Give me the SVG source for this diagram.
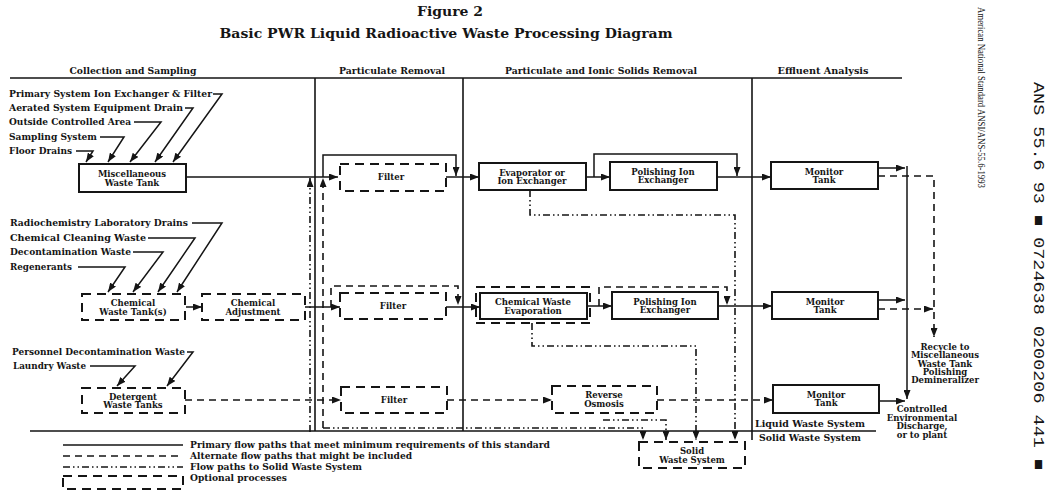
<svg xmlns="http://www.w3.org/2000/svg" width="1046" height="490" viewBox="0 0 1046 490">
<style>
.t{font-family:"DejaVu Serif","Liberation Serif",serif;font-weight:bold;fill:#151515}
.bx{font-size:8.5px;text-anchor:middle}
.lb{font-size:9px}
.hd{font-size:9.5px;text-anchor:middle}
.sb{fill:#fff;stroke:#151515;stroke-width:2}
.db{fill:#fff;stroke:#151515;stroke-width:2;stroke-dasharray:9 6}
.ln{fill:none;stroke:#151515;stroke-width:1.5}
.frame{fill:none;stroke:#151515;stroke-width:1.6}
.dl{fill:none;stroke:#151515;stroke-width:1.6;stroke-dasharray:7 5}
.dd{fill:none;stroke:#151515;stroke-width:1.6;stroke-dasharray:7 3 1.5 3 1.5 3}
</style>
<defs>
<marker id="ah" markerUnits="userSpaceOnUse" markerWidth="9" markerHeight="7" refX="9" refY="3.5" orient="auto">
<path d="M0,0 L9,3.5 L0,7 z" fill="#151515"/>
</marker>
</defs>
<rect width="1046" height="490" fill="#fff"/>

<!-- titles -->
<text class="t" x="450" y="16" font-size="12" text-anchor="middle" textLength="66" lengthAdjust="spacingAndGlyphs">Figure 2</text>
<text class="t" x="446" y="38" font-size="13" text-anchor="middle" textLength="453" lengthAdjust="spacingAndGlyphs">Basic PWR Liquid Radioactive Waste Processing Diagram</text>
<text class="t hd" x="133" y="74" textLength="127" lengthAdjust="spacingAndGlyphs">Collection and Sampling</text>
<text class="t hd" x="392" y="74" textLength="106" lengthAdjust="spacingAndGlyphs">Particulate Removal</text>
<text class="t hd" x="601" y="74" textLength="192" lengthAdjust="spacingAndGlyphs">Particulate and Ionic Solids Removal</text>
<text class="t hd" x="823" y="74" textLength="91" lengthAdjust="spacingAndGlyphs">Effluent Analysis</text>

<!-- frame -->
<g id="frame">
<path class="frame" d="M10,78 H902 M315,78 V431 M463,78 V431 M752,78 V440 M30,431 H876"/>
</g>

<!-- source labels -->
<g id="sources">
<text class="t lb" x="9" y="97" textLength="203" lengthAdjust="spacingAndGlyphs">Primary System Ion Exchanger &amp; Filter</text>
<text class="t lb" x="9" y="111" textLength="174" lengthAdjust="spacingAndGlyphs">Aerated System Equipment Drain</text>
<text class="t lb" x="9" y="125" textLength="122" lengthAdjust="spacingAndGlyphs">Outside Controlled Area</text>
<text class="t lb" x="9" y="140" textLength="88" lengthAdjust="spacingAndGlyphs">Sampling System</text>
<text class="t lb" x="9" y="154" textLength="63" lengthAdjust="spacingAndGlyphs">Floor Drains</text>
<text class="t lb" x="10" y="226" textLength="178" lengthAdjust="spacingAndGlyphs">Radiochemistry Laboratory Drains</text>
<text class="t lb" x="10" y="241" textLength="136" lengthAdjust="spacingAndGlyphs">Chemical Cleaning Waste</text>
<text class="t lb" x="10" y="255" textLength="121" lengthAdjust="spacingAndGlyphs">Decontamination Waste</text>
<text class="t lb" x="10" y="270" textLength="62" lengthAdjust="spacingAndGlyphs">Regenerants</text>
<text class="t lb" x="12" y="355" textLength="173" lengthAdjust="spacingAndGlyphs">Personnel Decontamination Waste</text>
<text class="t lb" x="13" y="369" textLength="73" lengthAdjust="spacingAndGlyphs">Laundry Waste</text>
</g>

<!-- nodes -->
<g id="misc-tank"><rect class="sb" x="79" y="164" width="107" height="28"/>
<text class="t bx" x="132" y="177">Miscellaneous</text><text class="t bx" x="132" y="185.5">Waste Tank</text></g>
<g id="chem-tank"><rect class="db" x="82" y="294" width="103" height="26"/>
<text class="t bx" x="133" y="306">Chemical</text><text class="t bx" x="133" y="314.5">Waste Tank(s)</text></g>
<g id="chem-adj"><rect class="db" x="202" y="294" width="103" height="26"/>
<text class="t bx" x="253" y="306">Chemical</text><text class="t bx" x="253" y="314.5">Adjustment</text></g>
<g id="det-tank"><rect class="db" x="82" y="388" width="103" height="25"/>
<text class="t bx" x="133" y="399.5">Detergent</text><text class="t bx" x="133" y="408">Waste Tanks</text></g>

<g id="filter1"><rect class="db" x="340" y="164" width="106" height="27"/>
<text class="t bx" x="391" y="180">Filter</text></g>
<g id="filter2"><rect class="db" x="340" y="293" width="106" height="26"/>
<text class="t bx" x="393" y="309">Filter</text></g>
<g id="filter3"><rect class="db" x="341" y="387" width="106" height="26"/>
<text class="t bx" x="394" y="403">Filter</text></g>

<g id="evap1"><rect class="sb" x="479" y="163" width="107" height="27"/>
<text class="t bx" x="532" y="175.5">Evaporator or</text><text class="t bx" x="532" y="184">Ion Exchanger</text></g>
<g id="evap2"><rect class="db" x="476" y="287" width="114" height="36"/><rect class="sb" x="480" y="293" width="107" height="26"/>
<text class="t bx" x="533" y="305">Chemical Waste</text><text class="t bx" x="533" y="313.5">Evaporation</text></g>
<g id="ro"><rect class="db" x="552" y="386" width="105" height="27"/>
<text class="t bx" x="604" y="398">Reverse</text><text class="t bx" x="604" y="406.5">Osmosis</text></g>

<g id="polish1"><rect class="sb" x="610" y="162" width="107" height="28"/>
<text class="t bx" x="663" y="174.5">Polishing Ion</text><text class="t bx" x="663" y="183">Exchanger</text></g>
<g id="polish2"><rect class="sb" x="612" y="292" width="106" height="27"/>
<text class="t bx" x="665" y="304.5">Polishing Ion</text><text class="t bx" x="665" y="313">Exchanger</text></g>

<g id="monitor1"><rect class="sb" x="771" y="162" width="107" height="27"/>
<text class="t bx" x="824" y="174.5">Monitor</text><text class="t bx" x="824" y="183">Tank</text></g>
<g id="monitor2"><rect class="sb" x="772" y="292" width="106" height="27"/>
<text class="t bx" x="825" y="304.5">Monitor</text><text class="t bx" x="825" y="313">Tank</text></g>
<g id="monitor3"><rect class="sb" x="773" y="385" width="106" height="28"/>
<text class="t bx" x="826" y="397.5">Monitor</text><text class="t bx" x="826" y="406">Tank</text></g>

<g id="solid-waste"><rect class="db" x="639" y="442" width="106" height="26"/>
<text class="t bx" x="692" y="454">Solid</text><text class="t bx" x="692" y="462.5">Waste System</text></g>

<g id="recycle">
<text class="t bx" x="945" y="350">Recycle to</text>
<text class="t bx" x="945" y="358.3">Miscellaneous</text>
<text class="t bx" x="945" y="366.6">Waste Tank</text>
<text class="t bx" x="945" y="374.9">Polishing</text>
<text class="t bx" x="945" y="383.2">Demineralizer</text>
</g>
<g id="discharge">
<text class="t bx" x="922" y="412">Controlled</text>
<text class="t bx" x="922" y="420.5">Environmental</text>
<text class="t bx" x="922" y="429">Discharge,</text>
<text class="t bx" x="922" y="437.5">or to plant</text>
</g>
<g id="system-labels">
<text class="t" x="755" y="427" font-size="8.5" textLength="110" lengthAdjust="spacingAndGlyphs">Liquid Waste System</text>
<text class="t" x="759" y="441" font-size="8.5" textLength="102" lengthAdjust="spacingAndGlyphs">Solid Waste System</text>
</g>

<!-- connectors -->
<g id="connectors">
<path class="ln" d="M213,94 H222 L173,162" marker-end="url(#ah)"/>
<path class="ln" d="M185,108 H193 L155,162" marker-end="url(#ah)"/>
<path class="ln" d="M134,122 H161 L130,162" marker-end="url(#ah)"/>
<path class="ln" d="M100,137 H124 L108,162" marker-end="url(#ah)"/>
<path class="ln" d="M76,151 H93 L86,162" marker-end="url(#ah)"/>
<path class="ln" d="M192,223 H222 L177,292" marker-end="url(#ah)"/>
<path class="ln" d="M148,238 H195 L158,292" marker-end="url(#ah)"/>
<path class="ln" d="M133,252 H163 L133,292" marker-end="url(#ah)"/>
<path class="ln" d="M78,267 H125 L108,292" marker-end="url(#ah)"/>
<path class="ln" d="M187,352 H193 L167,386" marker-end="url(#ah)"/>
<path class="ln" d="M90,366 H135 L117,386" marker-end="url(#ah)"/>

<!-- row 1 -->
<path class="ln" d="M186,177 H338" marker-end="url(#ah)"/>
<path class="ln" d="M323,177 V155 H456 V176" marker-end="url(#ah)"/>
<path class="ln" d="M446,177 H479" marker-end="url(#ah)"/>
<path class="ln" d="M586,177 H610" marker-end="url(#ah)"/>
<path class="ln" d="M594,177 V154 H737 V176" marker-end="url(#ah)"/>
<path class="ln" d="M717,177 H771" marker-end="url(#ah)"/>
<path class="ln" d="M878,168 H905" marker-end="url(#ah)"/>
<path class="ln" d="M907,166 V399" marker-end="url(#ah)"/>
<path class="dl" d="M878,176 H934 V337" marker-end="url(#ah)"/>

<!-- row 2 -->
<path class="ln" d="M186,307 H202" marker-end="url(#ah)"/>
<path class="ln" d="M305,307 H340" marker-end="url(#ah)"/>
<path class="dl" d="M331,307 V286 H458 V305" marker-end="url(#ah)"/>
<path class="ln" d="M446,307 H480" marker-end="url(#ah)"/>
<path class="ln" d="M587,306 H612" marker-end="url(#ah)"/>
<path class="dl" d="M599,306 V287 H727 V305" marker-end="url(#ah)"/>
<path class="ln" d="M718,306 H772" marker-end="url(#ah)"/>
<path class="ln" d="M878,300 H905" marker-end="url(#ah)"/>
<path class="dl" d="M878,309 H933" marker-end="url(#ah)"/>

<!-- row 3 -->
<path class="dl" d="M185,400 H341" marker-end="url(#ah)"/>
<path class="dl" d="M447,400 H552" marker-end="url(#ah)"/>
<path class="dl" d="M657,400 H773" marker-end="url(#ah)"/>
<path class="ln" d="M879,401 H905" marker-end="url(#ah)"/>

<!-- recycle / solid waste paths -->
<path class="dd" d="M310,432 V178" marker-end="url(#ah)"/>
<path class="dl" d="M323,428 V178" marker-end="url(#ah)"/>
<path class="dd" d="M323,428 H643 V440" marker-end="url(#ah)"/>
<path class="dd" d="M603,420 H666 V440" marker-end="url(#ah)"/>
<path class="dd" d="M532,323 V346 H696 V440" marker-end="url(#ah)"/>
<path class="dd" d="M530,190 V215 H735 V440" marker-end="url(#ah)"/>
</g>

<!-- legend -->
<g id="legend">
<path class="ln" d="M63,445 H183"/>
<path class="dl" d="M63,456 H183"/>
<path class="dd" d="M63,467 H183"/>
<rect class="db" x="63" y="476" width="120" height="13"/>
<text class="t lb" x="190" y="448" textLength="360" lengthAdjust="spacingAndGlyphs">Primary flow paths that meet minimum requirements of this standard</text>
<text class="t lb" x="190" y="459" textLength="222" lengthAdjust="spacingAndGlyphs">Alternate flow paths that might be included</text>
<text class="t lb" x="190" y="470" textLength="172" lengthAdjust="spacingAndGlyphs">Flow paths to Solid Waste System</text>
<text class="t lb" x="190" y="481" textLength="97" lengthAdjust="spacingAndGlyphs">Optional processes</text>
</g>

<!-- side stamps -->
<text transform="translate(978,7) rotate(90)" font-family="Liberation Serif, serif" font-size="10.5" fill="#151515" textLength="181" lengthAdjust="spacingAndGlyphs">American National Standard ANSI/ANS-55.6-1993</text>
<text transform="translate(1034,82) rotate(90)" font-family="Liberation Mono, DejaVu Sans Mono, monospace" font-size="15" fill="#151515" textLength="388" lengthAdjust="spacingAndGlyphs">ANS 55.6 93 ■ 0724638 0200206 441 ■</text>
</svg>
